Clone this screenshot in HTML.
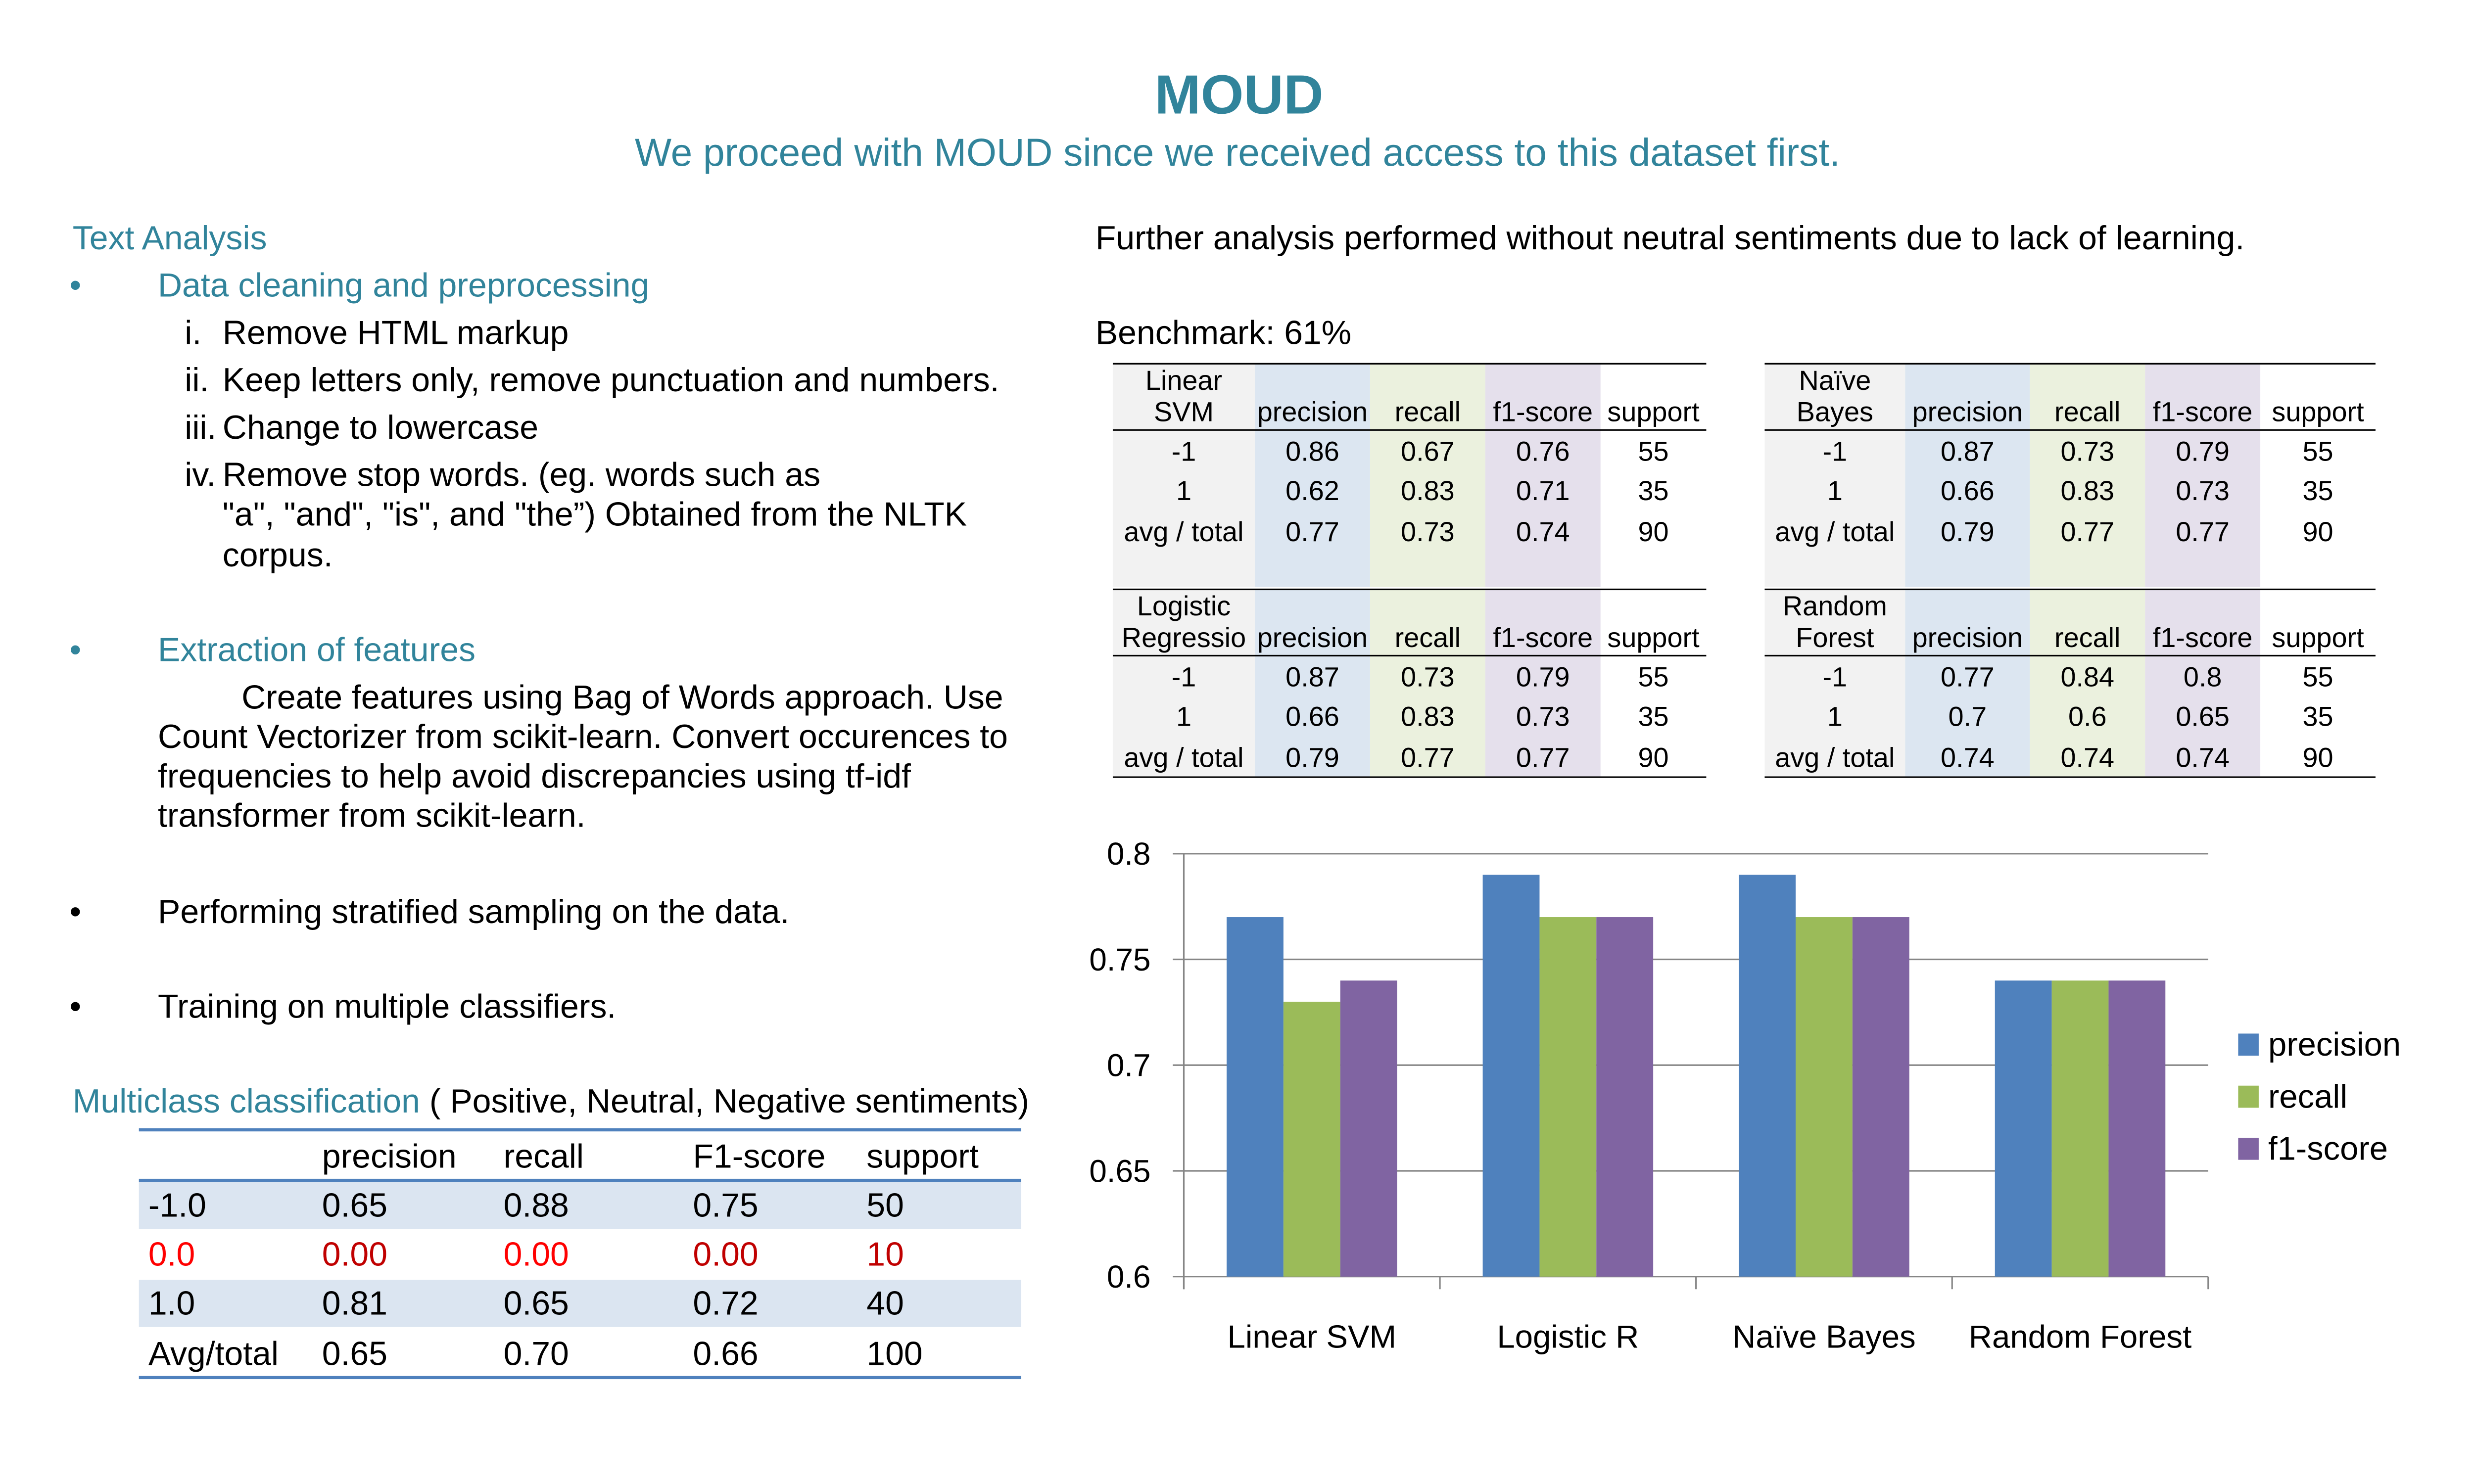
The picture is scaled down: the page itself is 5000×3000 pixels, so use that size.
<!DOCTYPE html>
<html><head><meta charset="utf-8"><style>
html,body{margin:0;padding:0;background:#fff;overflow:hidden}
#page{position:absolute;left:0;top:0;width:1568px;height:940px;transform:scale(3.19);transform-origin:0 0;font-family:"Liberation Sans",sans-serif;color:#000}
.t{position:absolute;white-space:nowrap;line-height:1}
.teal{color:#31849b}
.s20{font-size:21.3px}
.box{position:absolute}
</style></head><body>
<div id="page">
<div class="t teal" style="left:0;width:1570px;text-align:center;top:43px;font-size:35px;font-weight:bold">MOUD</div>
<div class="t teal" style="left:0;width:1568px;text-align:center;top:86px;font-size:24.6px">We proceed with MOUD since we received access to this dataset first.</div>

<div class="t teal s20" style="left:46px;top:141px">Text Analysis</div>
<div class="t teal s20" style="left:44px;top:171px">•</div>
<div class="t teal s20" style="left:100px;top:171px">Data cleaning and preprocessing</div>
<div class="t s20" style="left:117px;top:201px">i.</div>
<div class="t s20" style="left:141px;top:201px">Remove HTML markup</div>
<div class="t s20" style="left:117px;top:231px">ii.</div>
<div class="t s20" style="left:141px;top:231px">Keep letters only, remove punctuation and numbers.</div>
<div class="t s20" style="left:117px;top:261px">iii.</div>
<div class="t s20" style="left:141px;top:261px">Change to lowercase</div>
<div class="t s20" style="left:117px;top:291px">iv.</div>
<div class="t s20" style="left:141px;top:291px">Remove stop words. (eg. words such as</div>
<div class="t s20" style="left:141px;top:316px">"a", "and", "is", and "the”) Obtained from the NLTK</div>
<div class="t s20" style="left:141px;top:342px">corpus.</div>

<div class="t teal s20" style="left:44px;top:402px">•</div>
<div class="t teal s20" style="left:100px;top:402px">Extraction of features</div>
<div class="t s20" style="left:153px;top:432px">Create features using Bag of Words approach. Use</div>
<div class="t s20" style="left:100px;top:457px">Count Vectorizer from scikit-learn. Convert occurences to</div>
<div class="t s20" style="left:100px;top:482px">frequencies to help avoid discrepancies using tf-idf</div>
<div class="t s20" style="left:100px;top:507px">transformer from scikit-learn.</div>
<div class="t s20" style="left:44px;top:568px">•</div>
<div class="t s20" style="left:100px;top:568px">Performing stratified sampling on the data.</div>
<div class="t s20" style="left:44px;top:628px">•</div>
<div class="t s20" style="left:100px;top:628px">Training on multiple classifiers.</div>
<div class="t s20" style="left:46px;top:688px"><span class="teal">Multiclass classification</span> ( Positive, Neutral, Negative sentiments)</div>

<div id="mc"></div>

<div class="t s20" style="left:694px;top:141px">Further analysis performed without neutral sentiments due to lack of learning.</div>
<div class="t s20" style="left:694px;top:201px">Benchmark: 61%</div>
<div id="tables"></div>

<svg id="chart" style="position:absolute;left:0;top:0" width="1568" height="940"></svg>
</div>
<script>
// ---- multiclass table
const mcHeaders = ["precision","recall","F1-score","support"];
const mcRows = [["-1.0","0.65","0.88","0.75","50"],["0.0","0.00","0.00","0.00","10"],["1.0","0.81","0.65","0.72","40"],["Avg/total","0.65","0.70","0.66","100"]];
// ---- classifier tables
const tblNames = [["Linear","SVM"],["Naïve","Bayes"],["Logistic","Regressio"],["Random","Forest"]];
const tblVals = [
 [["-1","0.86","0.67","0.76","55"],["1","0.62","0.83","0.71","35"],["avg / total","0.77","0.73","0.74","90"]],
 [["-1","0.87","0.73","0.79","55"],["1","0.66","0.83","0.73","35"],["avg / total","0.79","0.77","0.77","90"]],
 [["-1","0.87","0.73","0.79","55"],["1","0.66","0.83","0.73","35"],["avg / total","0.79","0.77","0.77","90"]],
 [["-1","0.77","0.84","0.8","55"],["1","0.7","0.6","0.65","35"],["avg / total","0.74","0.74","0.74","90"]]
];
const tblHeaders = ["precision","recall","f1-score","support"];
// ---- chart data
const categories = ["Linear SVM","Logistic R","Naïve Bayes","Random Forest"];
const seriesNames = ["precision","recall","f1-score"];
const precision = [0.77,0.79,0.79,0.74];
const recall = [0.73,0.77,0.77,0.74];
const f1score = [0.74,0.77,0.77,0.74];
const yTicks = [0.6,0.65,0.7,0.75,0.8];
const yTickLabels = ["0.6","0.65","0.7","0.75","0.8"];

const page=document.getElementById('page');
function txt(s,x,y,size,opts){
  const d=document.createElement('div');
  d.className='t';d.textContent=s;
  d.style.fontSize=size+'px';d.style.top=(y-size*0.55+1.5)+'px';
  if(opts&&opts.center){d.style.left=(x-60)+'px';d.style.width='120px';d.style.textAlign='center';}
  else d.style.left=x+'px';
  if(opts&&opts.color)d.style.color=opts.color;
  page.appendChild(d);return d;
}
function box(x,y,w,h,bg){const b=document.createElement('div');b.className='box';b.style.cssText=`left:${x}px;top:${y}px;width:${w}px;height:${h}px;background:${bg}`;page.appendChild(b);return b;}

// multiclass
{
  const rowY=[764,795,826,858];
  let b=box(88,749,559,30,'#dbe5f1');
  b=box(88,811,559,30,'#dbe5f1');
  [716,748,873].forEach(y=>{const l=box(88,y-1,559,2,'#4f81bd');});
  const cx=[94,204,319,439,549];
  mcHeaders.forEach((h,i)=>{const e=txt(h,cx[i+1],733,21.3);});
  mcRows.forEach((r,ri)=>r.forEach((v,ci)=>{
    const col= ri===1 ? (ci===0||ci===2?'#ff0000':'#c00000') : null;
    const e=txt(v,cx[ci],rowY[ri],21.3,{color:col});
    
    
  }));
}
// classifier tables
{
  const layouts=[
    {x:[705,795,868,941,1014,1081],top:230},
    {x:[1118,1207,1286,1359,1432,1505],top:230},
    {x:[705,795,868,941,1014,1081],top:373},
    {x:[1118,1207,1286,1359,1432,1505],top:373}];
  const bgs=['#f2f2f2','#dce6f1','#ebf1de','#e5e0ec'];
  const fs=17.5;
  layouts.forEach((L,t)=>{
    const T=L.top, H=(t<2)?142:119;
    for(let c=0;c<4;c++){const b=box(L.x[c],T,L.x[c+1]-L.x[c],H,bgs[c]);}
    const lines=[T,T+42]; if(t>=2) lines.push(T+119);
    lines.forEach(y=>{const l=box(L.x[0],y-0.5,L.x[5]-L.x[0],1.5,'#000');});
    const mid=c=>(L.x[c]+L.x[c+1])/2;
    let e=txt(tblNames[t][0],mid(0),T+11,fs,{center:1});
    e=txt(tblNames[t][1],mid(0),T+31,fs,{center:1});
    tblHeaders.forEach((h,i)=>{const e=txt(h,mid(i+1),T+31,fs,{center:1});});
    tblVals[t].forEach((r,ri)=>r.forEach((v,ci)=>{
      const e=txt(v,mid(ci),T+56+ri*25.5,fs,{center:1});
      
      
    }));
  });
}
// chart
{
  const svg=document.getElementById('chart');const NS='http://www.w3.org/2000/svg';
  const X0=750,X1=1399,Ytop=541,Ybot=809,vmin=0.6,vmax=0.8;
  const y=v=>Ybot-(v-vmin)/(vmax-vmin)*(Ybot-Ytop);
  const gw=(X1-X0)/categories.length;
  const el=(tag,a)=>{const e=document.createElementNS(NS,tag);for(const k in a)e.setAttribute(k,a[k]);svg.appendChild(e);return e;};
  yTicks.forEach((v,i)=>{
    let e=el('line',{x1:X0-7,x2:X1,y1:y(v),y2:y(v),stroke:'#868686','stroke-width':1});
    
    
    e=el('text',{x:729,y:y(v)+7,'text-anchor':'end','font-size':20,'font-family':'Liberation Sans, sans-serif'});
    e.textContent=yTickLabels[i];
    
    
  });
  let a=el('line',{x1:X0,x2:X0,y1:Ytop,y2:Ybot+8,stroke:'#868686','stroke-width':1});
  
  
  for(let i=0;i<=categories.length;i++){
    const t=el('line',{x1:X0+i*gw,x2:X0+i*gw,y1:Ybot,y2:Ybot+8,stroke:'#868686','stroke-width':1});
    
    
  }
  const series=[precision,recall,f1score];const colors=['#4f81bd','#9bbb59','#8064a2'];
  const bw=36;
  categories.forEach((c,i)=>{
    const cx=X0+gw*(i+0.5);
    series.forEach((s,k)=>{
      const r=el('rect',{x:cx-1.5*bw+k*bw,y:y(s[i]),width:bw,height:Ybot-y(s[i]),fill:colors[k]});
      
      
    });
    const t=el('text',{x:cx,y:854,'text-anchor':'middle','font-size':20.5,'font-family':'Liberation Sans, sans-serif'});
    t.textContent=c;
    
    
  });
  seriesNames.forEach((n,k)=>{
    const ly=662+k*33;
    const r=el('rect',{x:1418,y:ly-7,width:13,height:14,fill:colors[k]});
    
    
    const t=el('text',{x:1437,y:ly+7,'font-size':21,'font-family':'Liberation Sans, sans-serif'});
    t.textContent=n;
    
    
  });
}
</script>
</body></html>
